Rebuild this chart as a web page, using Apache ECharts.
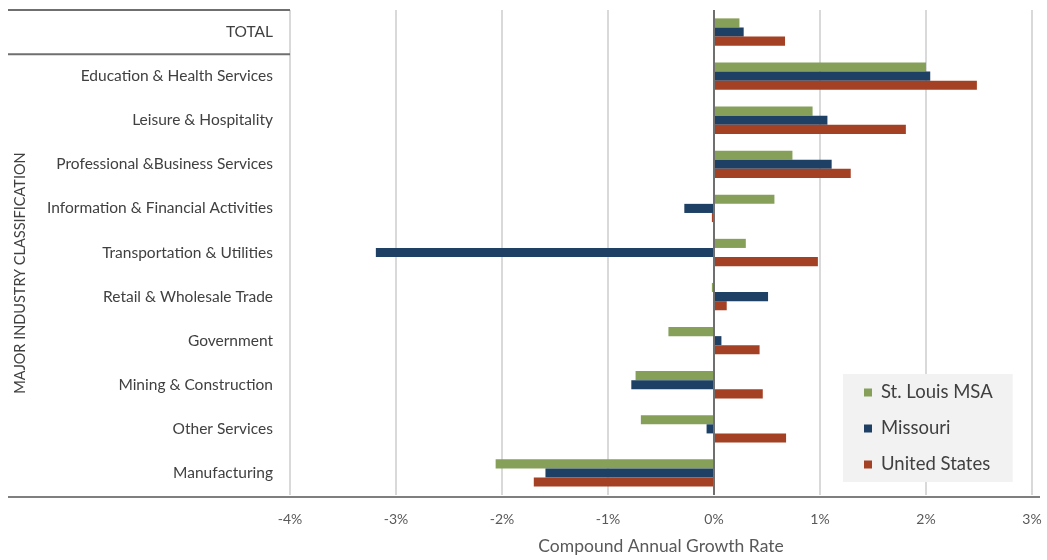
<!DOCTYPE html>
<html>
<head>
<meta charset="utf-8">
<script src="https://cdn.jsdelivr.net/npm/echarts@6/dist/echarts.min.js"></script>
<style>
  html, body { margin: 0; padding: 0; background: #fff; }
  #chart { width: 1047px; height: 560px; }
</style>
</head>
<body>
<div id="chart"></div>
<script>
// Industry groups, top to bottom
const categories = [
  'TOTAL',
  'Education & Health Services',
  'Leisure & Hospitality',
  'Professional &Business Services',
  'Information & Financial Activities',
  'Transportation & Utilities',
  'Retail & Wholesale Trade',
  'Government',
  'Mining & Construction',
  'Other Services',
  'Manufacturing'
];

// Compound annual growth rate, percent
const stLouisMSA   = [0.24, 2.00, 0.93, 0.74, 0.57, 0.30, -0.02, -0.43, -0.74, -0.69, -2.06];
const missouri     = [0.28, 2.04, 1.07, 1.11, -0.28, -3.19, 0.51, 0.07, -0.78, -0.07, -1.59];
const unitedStates = [0.67, 2.48, 1.81, 1.29, -0.02, 0.98, 0.12, 0.43, 0.46, 0.68, -1.70];

const seriesNames = ['St. Louis MSA', 'Missouri', 'United States'];
const xTicks = { min: -4, max: 3, step: 1 };

const FONT = 'Lato, "Open Sans", sans-serif';
const colors = ['#86a05a', '#1e4064', '#a44024'];

const gridBox = { left: 290, right: 15, top: 10, bottom: 63 };
const H = 560, W = 1047;
const gridBottomY = H - gridBox.bottom;
const bandH = (gridBottomY - gridBox.top) / categories.length;

const chart = echarts.init(document.getElementById('chart'), null, { renderer: 'canvas' });

function bar(name, data, color, withZeroLine) {
  const s = {
    name: name,
    type: 'bar',
    data: data,
    itemStyle: { color: color },
    barGap: '0%',
    barCategoryGap: '38%',
    silent: true
  };
  if (withZeroLine) {
    s.markLine = {
      silent: true,
      symbol: 'none',
      label: { show: false },
      lineStyle: { color: '#6f6f6f', width: 2, type: 'solid' },
      data: [{ xAxis: 0 }]
    };
  }
  return s;
}

const option = {
  animation: false,
  textStyle: { fontFamily: FONT },
  grid: gridBox,
  legend: {
    orient: 'vertical',
    left: 843,
    top: 374,
    backgroundColor: '#f2f2f2',
    padding: [9, 20, 8, 21],
    itemGap: 17,
    itemWidth: 8,
    itemHeight: 8,
    icon: 'rect',
    textStyle: { fontFamily: FONT, fontSize: 18.5, color: '#404040', padding: [0, 0, 0, 4] },
    data: seriesNames
  },
  xAxis: {
    type: 'value',
    min: xTicks.min,
    max: xTicks.max,
    interval: xTicks.step,
    name: 'Compound Annual Growth Rate',
    nameLocation: 'middle',
    nameGap: 42,
    nameTextStyle: { fontFamily: FONT, fontSize: 17.5, color: '#595959' },
    axisLine: { show: false },
    axisTick: { show: false },
    axisLabel: {
      fontFamily: FONT, fontSize: 14, color: '#595959', margin: 17,
      formatter: v => v + '%'
    },
    splitLine: { show: true, lineStyle: { color: '#d9d9d9', width: 2 } }
  },
  yAxis: {
    type: 'category',
    data: categories,
    inverse: true,
    axisLine: { show: false },
    axisTick: { show: false },
    axisLabel: { fontFamily: FONT, fontSize: 15.5, color: '#404040', margin: 17,
                 verticalAlign: 'middle', padding: [6, 0, 0, 0] },
    splitLine: { show: false }
  },
  series: [
    bar(seriesNames[0], stLouisMSA, colors[0], true),
    bar(seriesNames[1], missouri, colors[1], false),
    bar(seriesNames[2], unitedStates, colors[2], false)
  ],
  graphic: [
    // rule above the TOTAL row
    { type: 'line', silent: true, z: 10,
      shape: { x1: 8, y1: gridBox.top, x2: gridBox.left, y2: gridBox.top },
      style: { stroke: '#6f6f6f', lineWidth: 2 } },
    // rule separating TOTAL from the industry rows
    { type: 'line', silent: true, z: 10,
      shape: { x1: 8, y1: gridBox.top + bandH, x2: gridBox.left, y2: gridBox.top + bandH },
      style: { stroke: '#6f6f6f', lineWidth: 2 } },
    // category-axis baseline, extended across the label column
    { type: 'line', silent: true, z: 10,
      shape: { x1: 8, y1: gridBottomY, x2: W - 7, y2: gridBottomY },
      style: { stroke: '#7f7f7f', lineWidth: 2 } },
    // vertical axis title
    { type: 'text', silent: true, x: 20, y: 273, rotation: Math.PI / 2,
      style: { text: 'MAJOR INDUSTRY CLASSIFICATION', fontFamily: FONT, fontSize: 14.5,
               fill: '#404040', align: 'center', verticalAlign: 'middle' } }
  ]
};

chart.setOption(option);
</script>
</body>
</html>
